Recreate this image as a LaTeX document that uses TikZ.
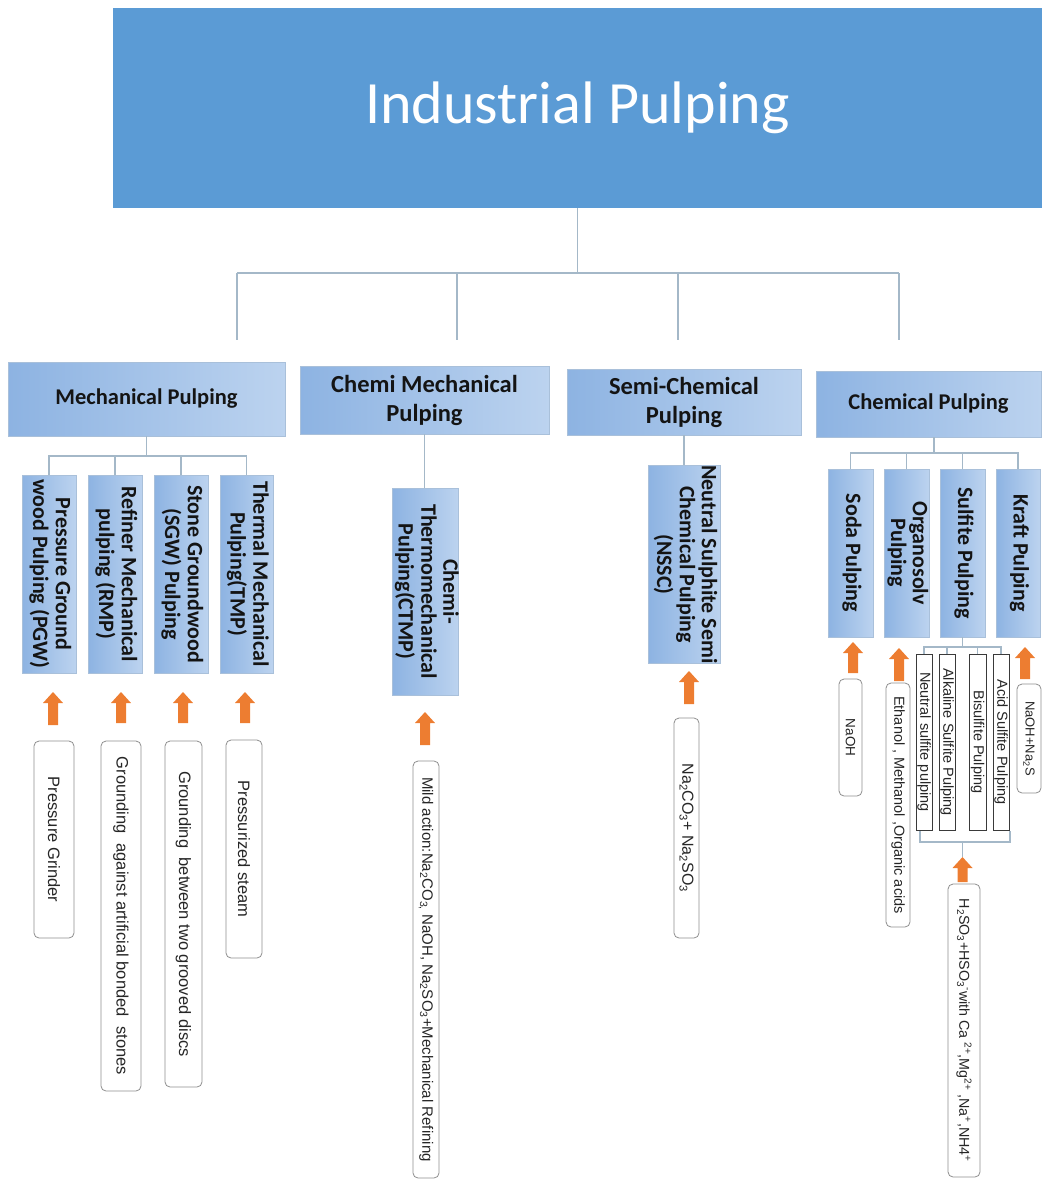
\documentclass[tikz,border=0pt]{standalone}
\usepackage{fontspec}
\usepackage{graphicx}
\setmainfont{Liberation Sans}
\newfontfamily\calfont{Carlito}
\definecolor{topblue}{HTML}{5B9BD5}
\definecolor{gradL}{HTML}{8DB3E2}
\definecolor{gradR}{HTML}{BCD3EF}
\definecolor{boxborder}{HTML}{A9C0DA}
\definecolor{connc}{HTML}{A4B8C8}
\definecolor{orangec}{HTML}{ED7D31}
\definecolor{tborder}{HTML}{8F8F8F}
\definecolor{sborder}{HTML}{3A3A3A}
\definecolor{textdark}{HTML}{141414}
\definecolor{tcol}{HTML}{262626}
\newcommand\bx[7]{\node[#2, minimum width={#5-#3}, minimum height={#6-#4}] (#1) at ({(#3+#5)/2},{(#4+#6)/2}) {#7};}
\newcommand\vlab[1]{\rotatebox{-90}{\begin{tabular}{@{}c@{}}#1\end{tabular}}}
\newcommand\tlab[1]{\rotatebox{-90}{#1}}
\newcommand\uparr[3]{\path[oarrow] (#1-5,#3) -- (#1-5,#2+11) -- (#1-10,#2+11) -- (#1,#2) -- (#1+10,#2+11) -- (#1+5,#2+11) -- (#1+5,#3) -- cycle;}
\newcommand\mysub[1]{\textsubscript{#1}}
\newcommand\mysup[1]{\textsuperscript{#1}}
\begin{document}
\begin{tikzpicture}[x=1pt,y=-1pt,
  conn/.style={draw=connc, line width=1.1pt},
  topbox/.style={fill=topblue, draw=none, inner sep=0pt, text=white, font=\calfont\fontsize{60}{72}\selectfont},
  lvtwo/.style={draw=boxborder, line width=0.6pt, left color=gradL, right color=gradR, inner sep=0pt, align=center, text=textdark, font=\calfont\bfseries\fontsize{22.5}{29}\selectfont},
  lvtwob/.style={lvtwo, font=\calfont\bfseries\fontsize{24.5}{29}\selectfont},
  vbox/.style={draw=boxborder, line width=0.6pt, left color=gradL, right color=gradR, inner sep=0pt, text=textdark, font=\calfont\bfseries\fontsize{22}{21.5}\selectfont},
  tbox/.style={draw=tborder, rounded corners=5pt, fill=white, line width=0.8pt, inner sep=0pt, text=tcol, font=\fontsize{16.5}{19}\selectfont},
  sbox/.style={draw=sborder, fill=white, line width=0.8pt, inner sep=0pt, text=tcol, font=\fontsize{14.5}{17}\selectfont},
  oarrow/.style={fill=orangec, draw=none}]
\useasboundingbox (0,0) rectangle (1042,1180);
% top
\bx{top}{topbox}{113}{8}{1042}{208}{Industrial Pulping}
% level 2
\bx{mech}{lvtwo}{8}{362}{285}{436}{Mechanical Pulping}
\bx{chemi}{lvtwob}{300}{366}{549}{434}{Chemi Mechanical\\Pulping}
\bx{semi}{lvtwob}{567}{369}{801}{435}{Semi-Chemical\\Pulping}
\bx{chem}{lvtwo}{816}{371}{1041}{437}{Chemical Pulping}
\coordinate (j0) at (577,273);
\coordinate (d1) at (237,340);
\coordinate (d2) at (457,340);
\coordinate (d3) at (678,340);
\coordinate (d4) at (899,340);
\draw[conn] (top.south) -- (top.south |- j0);
\draw[conn] (d1 |- j0) -- (d4 |- j0);
\foreach \d in {d1,d2,d3,d4} \draw[conn] (\d |- j0) -- (\d);
% mechanical children
\bx{pgw}{vbox}{22}{475}{76}{673}{\vlab{Pressure Ground\\wood Pulping (PGW)}}
\bx{rmp}{vbox}{88}{475}{142}{673}{\vlab{Refiner Mechanical\\pulping (RMP)}}
\bx{sgw}{vbox}{154}{475}{208}{673}{\vlab{Stone Groundwood\\(SGW) Pulping}}
\bx{tmp}{vbox}{220}{475}{273}{673}{\vlab{Thermal Mechanical\\Pulping(TMP)}}
\draw[conn] (mech.south) -- (mech.south |- 0,456);
\draw[conn] (pgw.north) -- (pgw.north |- 0,456) -- (tmp.north |- 0,456) -- (tmp.north);
\draw[conn] (rmp.north) -- (rmp.north |- 0,456);
\draw[conn] (sgw.north) -- (sgw.north |- 0,456);
% chemi mechanical
\bx{ctmp}{vbox}{396}{488}{455}{695}{\vlab{Chemi-\\Thermomechanical\\Pulping(CTMP)}}
\draw[conn] (chemi.south) -- (chemi.south |- ctmp.north);
% semi chemical
\bx{nssc}{vbox}{648}{467}{720}{662}{\vlab{Neutral Sulphite Semi\\Chemical Pulping\\(NSSC)}}
\draw[conn] (semi.south) -- (semi.south |- nssc.north);
% chemical children
\bx{soda}{vbox}{828}{469}{873}{637}{\vlab{Soda Pulping}}
\bx{orga}{vbox}{884}{469}{929}{637}{\vlab{Organosolv\\Pulping}}
\bx{sulf}{vbox}{940}{469}{985}{637}{\vlab{Sulfite Pulping}}
\bx{kraft}{vbox}{996}{469}{1040}{637}{\vlab{Kraft Pulping}}
\coordinate (cj) at (934,453);
\draw[conn] (chem.south -| cj) -- (cj);
\draw[conn] (soda.north) -- (soda.north |- cj) -- (kraft.north |- cj) -- (kraft.north);
\draw[conn] (orga.north) -- (orga.north |- cj);
\draw[conn] (sulf.north) -- (sulf.north |- cj);
% sulfite sub boxes
\bx{neut}{sbox}{916}{654}{932}{830}{\tlab{Neutral sulfite pulping}}
\bx{alk}{sbox}{939}{654}{955}{830}{\tlab{Alkaline Sulfite Pulping}}
\bx{bis}{sbox}{969}{654}{986}{830}{\tlab{Bisulfite Pulping}}
\bx{acid}{sbox}{993}{654}{1009}{830}{\tlab{Acid Sulfite Pulping}}
\coordinate (sj) at (962.5,647);
\draw[conn] (sulf.south) -- (sulf.south |- sj);
\draw[conn] (neut.north) -- (neut.north |- sj) -- (acid.north |- sj) -- (acid.north);
\draw[conn] (alk.north) -- (alk.north |- sj);
\draw[conn] (bis.north) -- (bis.north |- sj);
\coordinate (bl) at (920,831);
\coordinate (br) at (1010,831);
\coordinate (bj) at (962.5,842);
\coordinate (bt) at (962.5,857);
\draw[conn] (bl) -- (bl |- bj) -- (br |- bj) -- (br);
\draw[conn] (bj) -- (bt);
% orange arrows
\uparr{53}{692}{725}
\uparr{121}{692}{723}
\uparr{183}{692}{723}
\uparr{245}{692}{723}
\uparr{425}{712}{745}
\uparr{689}{671}{704}
\uparr{853}{642}{673}
\uparr{899}{648}{681}
\uparr{1025}{647}{679}
\uparr{962.5}{857}{882}
% text boxes
\bx{tpg}{tbox}{34}{741}{74}{938}{\tlab{Pressure Grinder}}
\bx{tga}{tbox}{101}{741}{141}{1091}{\tlab{Grounding\hspace{0.3em} against artificial bonded\hspace{0.3em} stones}}
\bx{tgb}{tbox}{165}{741}{202}{1087}{\tlab{Grounding\hspace{0.3em} between two grooved discs}}
\bx{tps}{tbox}{226}{740}{262}{958}{\tlab{Pressurized steam}}
\bx{tmild}{tbox,font=\fontsize{15}{18}\selectfont}{413}{761}{439}{1178}{\tlab{Mild action:Na\mysub{2}CO\mysub{3,} NaOH, Na\mysub{2}SO\mysub{3}+Mechanical Refining}}
\bx{tna}{tbox,font=\fontsize{16}{18}\selectfont}{674}{718}{699}{938}{\tlab{Na\mysub{2}CO\mysub{3}+ Na\mysub{2}SO\mysub{3}}}
\bx{tnaoh}{tbox,font=\fontsize{13.5}{16}\selectfont}{839}{679}{862}{796}{\tlab{NaOH}}
\bx{teth}{tbox,font=\fontsize{14.5}{17}\selectfont}{886}{683}{910}{927}{\tlab{Ethanol , Methanol ,Organic acids}}
\bx{tkr}{tbox,font=\fontsize{13}{16}\selectfont}{1017}{684}{1041}{793}{\tlab{NaOH+Na\mysub{2}S}}
\bx{th2}{tbox,font=\fontsize{14.3}{17}\selectfont}{948}{884}{980}{1177}{\tlab{H\mysub{2}SO\mysub{3}+HSO\mysub{3}\mysup{-}with Ca \mysup{2+},Mg\mysup{2+} ,Na\mysup{+},NH4\mysup{+}}}
\end{tikzpicture}
\end{document}
